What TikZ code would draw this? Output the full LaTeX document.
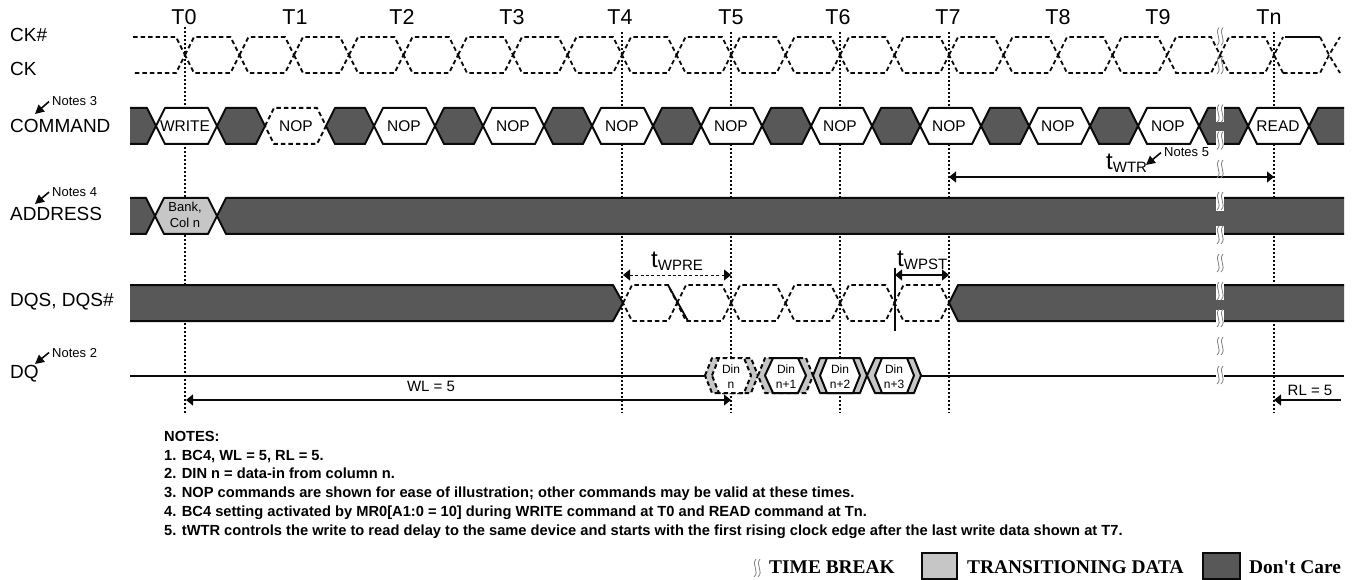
\documentclass[tikz,border=0pt]{standalone}
\usepackage{fontspec}
\setmainfont{Liberation Sans}
\newfontfamily\legfont{Liberation Serif}
\usetikzlibrary{arrows.meta}
\definecolor{dccol}{HTML}{585858}
\definecolor{trcol}{HTML}{C6C6C6}
\definecolor{inkcol}{HTML}{0A0A0A}
\definecolor{wavecol}{HTML}{808080}

\begin{document}
\begin{tikzpicture}[x=1pt,y=-1pt,
  sig/.style={font=\fontsize{19}{19}\selectfont,inner sep=0pt,anchor=base west},
  tlab/.style={font=\fontsize{21.5}{21.5}\selectfont,inner sep=0pt,anchor=base},
  notelab/.style={font=\fontsize{13}{13}\selectfont,inner sep=0pt,anchor=base west},
  hexlab/.style={font=\fontsize{15.5}{15.5}\selectfont,inner sep=0pt,anchor=base},
  smalllab/.style={font=\fontsize{13}{13}\selectfont,inner sep=0pt,anchor=base},
  dinlab/.style={font=\fontsize{12}{12}\selectfont,inner sep=0pt,anchor=base},
  timelab/.style={inner sep=0pt,anchor=base west},
  footlab/.style={font=\fontsize{14.67}{14.67}\selectfont\bfseries,inner sep=0pt,anchor=base west},
  leglab/.style={font=\fontsize{19.4}{19.4}\selectfont\legfont\bfseries,inner sep=0pt,anchor=base west},
  clk/.style={draw=inkcol,line width=1.8pt,dash pattern=on 4.5pt off 3pt},
  hexval/.style={draw=inkcol,line width=2pt,fill=white,line join=round},
  hexnop/.style={hexval,dash pattern=on 4.5pt off 3pt},
  hexdc/.style={draw=inkcol,line width=2pt,fill=dccol,line join=round},
  hexbank/.style={hexval,fill=trcol},
  dintr/.style={hexval,fill=trcol},
  dintrd/.style={dintr,dash pattern=on 4.5pt off 3pt},
  tick/.style={draw=inkcol,line width=1.2pt,dash pattern=on 2pt off 2pt},
  dimen/.style={draw=inkcol,line width=1.4pt,{Triangle[length=7pt,width=11pt]}-{Triangle[length=7pt,width=11pt]}},
  dimenr/.style={draw=inkcol,line width=1.4pt,-{Triangle[length=7pt,width=11pt]}},
  notearr/.style={draw=inkcol,line width=1.6pt,-{Triangle[length=9pt,width=9pt]}},
  gapfill/.style={fill=white,draw=none},
  wave/.style={draw=wavecol,line width=.8pt},
  tbreak/.pic={
    \draw[wave] (-1,-9) .. controls (-6,-3) and (3,3) .. (-3,9);
    \draw[wave] (3,-9) .. controls (-2,-3) and (7,3) .. (1,9);
  }]
\useasboundingbox (0,0) rectangle (1352,580);
\fill[white] (0,0) rectangle (1352,580);

\coordinate (t0a) at (185,27);
\coordinate (t0b) at (185,413);
\coordinate (t4a) at (622,32);
\coordinate (t4b) at (622,413);
\coordinate (t5a) at (731,32);
\coordinate (t5b) at (731,413);
\coordinate (t6a) at (840,32);
\coordinate (t6b) at (840,413);
\coordinate (t7a) at (949,32);
\coordinate (t7b) at (949,413);
\coordinate (tna) at (1274,32);
\coordinate (tnb) at (1274,413);
\draw[tick] (t0a) -- (t0b);
\draw[tick] (t4a) -- (t4b);
\draw[tick] (t5a) -- (t5b);
\draw[tick] (t6a) -- (t6b);
\draw[tick] (t7a) -- (t7b);
\draw[tick] (tna) -- (tnb);

\draw(184,25) node[tlab] (t0) {T0};
\draw(295,25) node[tlab] (t1) {T1};
\draw(402,25) node[tlab] (t2) {T2};
\draw(512,25) node[tlab] (t3) {T3};
\draw(620,25) node[tlab] (t4) {T4};
\draw(731,25) node[tlab] (t5) {T5};
\draw(838,25) node[tlab] (t6) {T6};
\draw(948,25) node[tlab] (t7) {T7};
\draw(1058,25) node[tlab] (t8) {T8};
\draw(1158,25) node[tlab] (t9) {T9};
\draw(1269,25) node[tlab] (tn) {Tn};

\draw(10,42) node[sig] (ckb) {CK\#};
\draw(10,76) node[sig] (ck) {CK};
\draw(10,133) node[sig] (cmd) {COMMAND};
\draw(10,221) node[sig] (addr) {ADDRESS};
\draw(10,306) node[sig] (dqs) {DQS, DQS\#};
\draw(10,378) node[sig] (dq) {DQ};

\draw(52,106) node[notelab] (n3) {Notes 3};
\draw(52,196.5) node[notelab] (n4) {Notes 4};
\draw(52,357) node[notelab] (n2) {Notes 2};
\draw(1164,157) node[notelab] (n5) {Notes 5};
\coordinate (n3tip) at (35,114);
\coordinate (n4tip) at (35,204);
\coordinate (n2tip) at (35,364);
\coordinate (n5tip) at (1146,165);
\draw[notearr] ([xshift=-3pt]n3.west) -- (n3tip);
\draw[notearr] ([xshift=-3pt]n4.west) -- (n4tip);
\draw[notearr] ([xshift=-3pt]n2.west) -- (n2tip);
\draw[notearr] ([xshift=-3pt]n5.west) -- (n5tip);

\draw[clk] (133,37) -- (176,37) -- (185,55) -- (176,73) -- (133,73);
\draw[clk] (185,55) -- (194,37) -- (230.5,37) -- (239.5,55) -- (230.5,73) -- (194,73) -- cycle;
\draw[clk] (239.5,55) -- (248.5,37) -- (285,37) -- (294,55) -- (285,73) -- (248.5,73) -- cycle;
\draw[clk] (294,55) -- (303,37) -- (340,37) -- (349,55) -- (340,73) -- (303,73) -- cycle;
\draw[clk] (349,55) -- (358,37) -- (394.5,37) -- (403.5,55) -- (394.5,73) -- (358,73) -- cycle;
\draw[clk] (403.5,55) -- (412.5,37) -- (449,37) -- (458,55) -- (449,73) -- (412.5,73) -- cycle;
\draw[clk] (458,55) -- (467,37) -- (504,37) -- (513,55) -- (504,73) -- (467,73) -- cycle;
\draw[clk] (513,55) -- (522,37) -- (558.5,37) -- (567.5,55) -- (558.5,73) -- (522,73) -- cycle;
\draw[clk] (567.5,55) -- (576.5,37) -- (613,37) -- (622,55) -- (613,73) -- (576.5,73) -- cycle;
\draw[clk] (622,55) -- (631,37) -- (667.5,37) -- (676.5,55) -- (667.5,73) -- (631,73) -- cycle;
\draw[clk] (676.5,55) -- (685.5,37) -- (722,37) -- (731,55) -- (722,73) -- (685.5,73) -- cycle;
\draw[clk] (731,55) -- (740,37) -- (776.5,37) -- (785.5,55) -- (776.5,73) -- (740,73) -- cycle;
\draw[clk] (785.5,55) -- (794.5,37) -- (831,37) -- (840,55) -- (831,73) -- (794.5,73) -- cycle;
\draw[clk] (840,55) -- (849,37) -- (885.5,37) -- (894.5,55) -- (885.5,73) -- (849,73) -- cycle;
\draw[clk] (894.5,55) -- (903.5,37) -- (940,37) -- (949,55) -- (940,73) -- (903.5,73) -- cycle;
\draw[clk] (949,55) -- (958,37) -- (994.5,37) -- (1003.5,55) -- (994.5,73) -- (958,73) -- cycle;
\draw[clk] (1003.5,55) -- (1012.5,37) -- (1049,37) -- (1058,55) -- (1049,73) -- (1012.5,73) -- cycle;
\draw[clk] (1058,55) -- (1067,37) -- (1103.5,37) -- (1112.5,55) -- (1103.5,73) -- (1067,73) -- cycle;
\draw[clk] (1112.5,55) -- (1121.5,37) -- (1158,37) -- (1167,55) -- (1158,73) -- (1121.5,73) -- cycle;
\draw[clk] (1167,55) -- (1176,37) -- (1211,37) -- (1220,55) -- (1211,73) -- (1176,73) -- cycle;
\draw[clk] (1220,55) -- (1229,37) -- (1265,37) -- (1274,55) -- (1265,73) -- (1229,73) -- cycle;
\draw[clk] (1283,73) -- (1274,55) -- (1283,37);
\draw[clk] (1283,73) -- (1320,73) -- (1329,55) -- (1340,37);
\draw[clk] (1320,37) -- (1329,55) -- (1340,73);
\coordinate (ckhia) at (1285,37);
\coordinate (ckhib) at (1320,37);
\draw[draw=inkcol,line width=1.8pt] (ckhia) -- (ckhib);

\filldraw[hexdc] (130,108) -- (147,108) -- (156,126) -- (147,144) -- (130,144);
\draw[hexval] (156,126) -- (165,108) -- (208,108) -- (217,126) -- (208,144) -- (165,144) -- cycle;
\draw[hexdc] (217,126) -- (226,108) -- (256,108) -- (265,126) -- (256,144) -- (226,144) -- cycle;
\draw[hexnop] (265,126) -- (274,108) -- (317,108) -- (326,126) -- (317,144) -- (274,144) -- cycle;
\draw[hexdc] (326,126) -- (335,108) -- (365,108) -- (374,126) -- (365,144) -- (335,144) -- cycle;
\draw[hexval] (374,126) -- (383,108) -- (426,108) -- (435,126) -- (426,144) -- (383,144) -- cycle;
\draw[hexdc] (435,126) -- (444,108) -- (474,108) -- (483,126) -- (474,144) -- (444,144) -- cycle;
\draw[hexval] (483,126) -- (492,108) -- (535,108) -- (544,126) -- (535,144) -- (492,144) -- cycle;
\draw[hexdc] (544,126) -- (553,108) -- (583,108) -- (592,126) -- (583,144) -- (553,144) -- cycle;
\draw[hexval] (592,126) -- (601,108) -- (644,108) -- (653,126) -- (644,144) -- (601,144) -- cycle;
\draw[hexdc] (653,126) -- (662,108) -- (692,108) -- (701,126) -- (692,144) -- (662,144) -- cycle;
\draw[hexval] (701,126) -- (710,108) -- (753,108) -- (762,126) -- (753,144) -- (710,144) -- cycle;
\draw[hexdc] (762,126) -- (771,108) -- (802,108) -- (811,126) -- (802,144) -- (771,144) -- cycle;
\draw[hexval] (811,126) -- (820,108) -- (863,108) -- (872,126) -- (863,144) -- (820,144) -- cycle;
\draw[hexdc] (872,126) -- (881,108) -- (911,108) -- (920,126) -- (911,144) -- (881,144) -- cycle;
\draw[hexval] (920,126) -- (929,108) -- (972,108) -- (981,126) -- (972,144) -- (929,144) -- cycle;
\draw[hexdc] (981,126) -- (990,108) -- (1020,108) -- (1029,126) -- (1020,144) -- (990,144) -- cycle;
\draw[hexval] (1029,126) -- (1038,108) -- (1081,108) -- (1090,126) -- (1081,144) -- (1038,144) -- cycle;
\draw[hexdc] (1090,126) -- (1099,108) -- (1129,108) -- (1138,126) -- (1129,144) -- (1099,144) -- cycle;
\draw[hexval] (1138,126) -- (1147,108) -- (1190,108) -- (1199,126) -- (1190,144) -- (1147,144) -- cycle;
\draw[hexdc] (1199,126) -- (1208,108) -- (1239,108) -- (1248,126) -- (1239,144) -- (1208,144) -- cycle;
\draw[hexval] (1248,126) -- (1257,108) -- (1300,108) -- (1309,126) -- (1300,144) -- (1257,144) -- cycle;
\filldraw[hexdc] (1344,108) -- (1318,108) -- (1309,126) -- (1318,144) -- (1344,144);

\draw(185,131.5) node[hexlab] (wr) {WRITE};
\draw(296,131.5) node[hexlab] (nop1) {NOP};
\draw(404,131.5) node[hexlab] (nop2) {NOP};
\draw(513,131.5) node[hexlab] (nop3) {NOP};
\draw(622,131.5) node[hexlab] (nop4) {NOP};
\draw(731,131.5) node[hexlab] (nop5) {NOP};
\draw(840,131.5) node[hexlab] (nop6) {NOP};
\draw(949,131.5) node[hexlab] (nop7) {NOP};
\draw(1058,131.5) node[hexlab] (nop8) {NOP};
\draw(1168,131.5) node[hexlab] (nop9) {NOP};
\draw(1278,131.5) node[hexlab] (rd) {READ};

\filldraw[hexdc] (130,198) -- (146,198) -- (155,216) -- (146,234) -- (130,234);
\draw[hexbank] (155,216) -- (164,198) -- (208,198) -- (217,216) -- (208,234) -- (164,234) -- cycle;
\filldraw[hexdc] (1344,198) -- (226,198) -- (217,216) -- (226,234) -- (1344,234);
\draw(185,212) node[smalllab] (bank) {Bank,};
\draw(185,228) node[smalllab] (col) {Col n};

\filldraw[hexdc] (130,285) -- (613,285) -- (623,303) -- (613,321) -- (130,321);
\draw[clk] (623,303) -- (632,285) -- (668,285) -- (677,303) -- (668,321) -- (632,321) -- cycle;
\draw[clk] (677,303) -- (686,285) -- (722,285) -- (731,303) -- (722,321) -- (686,321) -- cycle;
\draw[clk] (731,303) -- (740,285) -- (776.5,285) -- (785.5,303) -- (776.5,321) -- (740,321) -- cycle;
\draw[clk] (785.5,303) -- (794.5,285) -- (831,285) -- (840,303) -- (831,321) -- (794.5,321) -- cycle;
\draw[clk] (840,303) -- (849,285) -- (885.5,285) -- (894.5,303) -- (885.5,321) -- (849,321) -- cycle;
\draw[clk] (894.5,303) -- (903.5,285) -- (940,285) -- (949,303) -- (940,321) -- (903.5,321) -- cycle;
\filldraw[hexdc] (1344,285) -- (958,285) -- (949,303) -- (958,321) -- (1344,321);
\coordinate (dqsa) at (668,285);
\coordinate (dqsb) at (688,321);
\draw[draw=inkcol,line width=1.8pt] (dqsa) -- (dqsb);
\coordinate (wpsta) at (895,268);
\coordinate (wpstb) at (895,331);
\draw[draw=inkcol,line width=1.4pt] (wpsta) -- (wpstb);

\coordinate (dqa) at (130,375.5);
\coordinate (dqb) at (705,375.5);
\coordinate (dqc) at (921,375.5);
\coordinate (dqd) at (1344,375.5);
\draw[draw=inkcol,line width=2pt] (dqa) -- (dqb);
\draw[draw=inkcol,line width=2pt] (dqc) -- (dqd);
\draw[dintrd] (705,375.5) -- (712,358) -- (751,358) -- (758,375.5) -- (751,393) -- (712,393) -- cycle;
\draw[hexnop] (712,375.5) -- (719,358) -- (744,358) -- (751,375.5) -- (744,393) -- (719,393) -- cycle;
\draw[dintrd] (758,375.5) -- (765,358) -- (806,358) -- (813,375.5) -- (806,393) -- (765,393) -- cycle;
\draw[hexval] (765,375.5) -- (773,358) -- (798,358) -- (806,375.5) -- (798,393) -- (773,393) -- cycle;
\draw[dintr] (813,375.5) -- (820,358) -- (860,358) -- (867,375.5) -- (860,393) -- (820,393) -- cycle;
\draw[hexval] (820,375.5) -- (827,358) -- (853,358) -- (860,375.5) -- (853,393) -- (827,393) -- cycle;
\draw[dintr] (867,375.5) -- (875,358) -- (914,358) -- (921,375.5) -- (914,393) -- (875,393) -- cycle;
\draw[hexval] (875,375.5) -- (882,358) -- (907,358) -- (914,375.5) -- (907,393) -- (882,393) -- cycle;
\draw(731,373) node[dinlab] (din0) {Din};
\draw(731,388) node[dinlab] (din0b) {n};
\draw(786,373) node[dinlab] (din1) {Din};
\draw(786,388) node[dinlab] (din1b) {n+1};
\draw(840,373) node[dinlab] (din2) {Din};
\draw(840,388) node[dinlab] (din2b) {n+2};
\draw(894,373) node[dinlab] (din3) {Din};
\draw(894,388) node[dinlab] (din3b) {n+3};

\coordinate (wprea) at (623,275);
\coordinate (wpreb) at (731,275);
\coordinate (wpstl) at (895,275);
\coordinate (wpstr) at (949,275);
\coordinate (wtra) at (949,177);
\coordinate (wtrb) at (1274,177);
\coordinate (wla) at (186,400);
\coordinate (wlb) at (731,400);
\coordinate (rla) at (1341,400);
\coordinate (rlb) at (1274,400);
\draw[dimen,line width=1pt,dash pattern=on 3pt off 2.4pt] (wprea) -- (wpreb);
\draw[dimen] (wpstl) -- (wpstr);
\draw[dimen] (wtra) -- (wtrb);
\draw[dimen] (wla) -- (wlb);
\draw[dimenr] (rla) -- (rlb);

\draw(651,267) node[timelab,anchor=base west] (twpre) {{\fontsize{24}{24}\selectfont t}\raisebox{-3pt}{\fontsize{15}{15}\selectfont WPRE}};
\draw(897,266) node[timelab,anchor=base west] (twpst) {{\fontsize{24}{24}\selectfont t}\raisebox{-3pt}{\fontsize{15}{15}\selectfont WPST}};
\draw(1106,170) node[timelab,anchor=base west] (twtr) {{\fontsize{24}{24}\selectfont t}\raisebox{-3pt}{\fontsize{15}{15}\selectfont WTR}};
\draw(431,391) node[hexlab,font=\fontsize{15}{15}\selectfont] (wl) {WL = 5};
\draw(1310,395) node[hexlab,font=\fontsize{15}{15}\selectfont] (rl) {RL = 5};

\fill[gapfill] (1216,105) rectangle (1224,122);
\fill[gapfill] (1216,131) rectangle (1224,146);
\fill[gapfill] (1216,196) rectangle (1224,211);
\fill[gapfill] (1216,226) rectangle (1224,236);
\fill[gapfill] (1216,283) rectangle (1224,300);
\fill[gapfill] (1216,310) rectangle (1224,323);
\fill[gapfill] (1216,371) rectangle (1224,380);
\draw(1220,36.5) pic {tbreak};
\draw(1220,65) pic {tbreak};
\draw(1220,113.5) pic {tbreak};
\draw(1220,140.5) pic {tbreak};
\draw(1220,169) pic {tbreak};
\draw(1220,201) pic {tbreak};
\draw(1220,235) pic {tbreak};
\draw(1220,263) pic {tbreak};
\draw(1220,291) pic {tbreak};
\draw(1220,318) pic {tbreak};
\draw(1220,346) pic {tbreak};
\draw(1220,375) pic {tbreak};

\draw(164,441) node[footlab] (nh) {NOTES:};
\draw(164,460) node[footlab] (nl1) {1. BC4, WL = 5, RL = 5.};
\draw(164,478) node[footlab] (nl2) {2. DIN n = data-in from column n.};
\draw(164,497.5) node[footlab] (nl3) {3. NOP commands are shown for ease of illustration; other commands may be valid at these times.};
\draw(164,516) node[footlab] (nl4) {4. BC4 setting activated by MR0[A1:0 = 10] during WRITE command at T0 and READ command at Tn.};
\draw(164,535) node[footlab] (nl5) {5. tWTR controls the write to read delay to the same device and starts with the first rising clock edge after the last write data shown at T7.};

\draw(757,568) pic {tbreak};
\draw(769,573) node[leglab] (lb) {TIME BREAK};
\filldraw[draw=inkcol,line width=2pt,fill=trcol] (922,553) rectangle (957,579);
\draw(967,573) node[leglab] (lt) {TRANSITIONING DATA};
\filldraw[draw=inkcol,line width=2pt,fill=dccol] (1203,553) rectangle (1240,579);
\draw(1249,573) node[leglab] (ld) {Don't Care};
\end{tikzpicture}
\end{document}
